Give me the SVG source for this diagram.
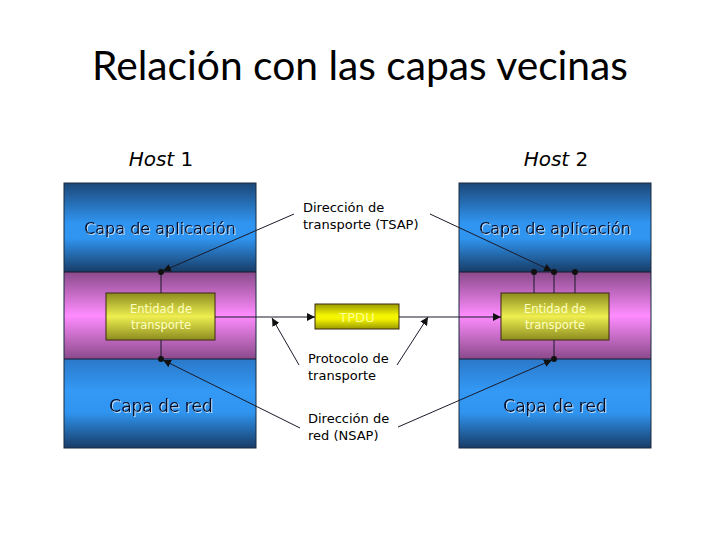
<svg xmlns="http://www.w3.org/2000/svg" width="720" height="540" viewBox="0 0 720 540">
<defs>
<linearGradient id="gBlue" x1="0" y1="0" x2="0" y2="1">
<stop offset="0" stop-color="#1c4778"/>
<stop offset="0.45" stop-color="#3095f0"/>
<stop offset="0.62" stop-color="#3095f0"/>
<stop offset="1" stop-color="#173c66"/>
</linearGradient>
<linearGradient id="gBlue2" x1="0" y1="0" x2="0" y2="1">
<stop offset="0" stop-color="#2a78c8"/>
<stop offset="0.35" stop-color="#3399f5"/>
<stop offset="0.6" stop-color="#3095f0"/>
<stop offset="1" stop-color="#173c66"/>
</linearGradient>
<linearGradient id="gPink" x1="0" y1="0" x2="0" y2="1">
<stop offset="0" stop-color="#8a4a8a"/>
<stop offset="0.5" stop-color="#ff8cff"/>
<stop offset="1" stop-color="#8a4a8a"/>
</linearGradient>
<linearGradient id="gYel" x1="0" y1="0" x2="0" y2="1">
<stop offset="0" stop-color="#8c8c20"/>
<stop offset="0.5" stop-color="#eeee50"/>
<stop offset="1" stop-color="#8c8c20"/>
</linearGradient>
<linearGradient id="gYel2" x1="0" y1="0" x2="0" y2="1">
<stop offset="0" stop-color="#9a9a00"/>
<stop offset="0.45" stop-color="#f4f400"/>
<stop offset="0.6" stop-color="#f4f400"/>
<stop offset="1" stop-color="#9a9a00"/>
</linearGradient>
<filter id="sh" x="-10%" y="-30%" width="120%" height="160%">
<feDropShadow dx="1" dy="1" stdDeviation="0" flood-color="#bcdcff" flood-opacity="1"/>
</filter>
<marker id="ah" viewBox="0 0 10 10" refX="10" refY="5" markerWidth="8" markerHeight="8" markerUnits="userSpaceOnUse" orient="auto">
<path d="M0,0 L10,5 L0,10 z" fill="#111"/>
</marker>
</defs>
<style>
.title{font-family:Lato,"Liberation Sans",sans-serif;font-size:40px;fill:#000}
.host{font-family:"DejaVu Sans",sans-serif;font-size:20px;fill:#000}
.layer{font-family:"DejaVu Sans",sans-serif;font-size:16px;fill:#000a28;filter:url(#sh)}
.red{font-size:17px}
.ent{font-family:"DejaVu Sans",sans-serif;font-size:11.5px;fill:#ffffc0}
.lbl{font-family:"DejaVu Sans",sans-serif;font-size:13px;fill:#000}
.sep{stroke:#1a1a30;stroke-width:1.2}
.ln{stroke:#1a1a2a;stroke-width:1;fill:none}
.dot{fill:#111}
</style>
<text class="title" x="360" y="80" text-anchor="middle" textLength="536" lengthAdjust="spacingAndGlyphs">Relación con las capas vecinas</text>

<g id="host1">
<text class="host" x="161" y="166" text-anchor="middle"><tspan font-style="italic">Host</tspan> 1</text>
<rect x="64" y="183" width="192" height="89" fill="url(#gBlue)"/>
<rect x="64" y="272" width="192" height="87" fill="url(#gPink)"/>
<rect x="64" y="359" width="192" height="89" fill="url(#gBlue2)"/>
<rect x="64" y="183" width="192" height="265" fill="none" stroke="#1a2a40" stroke-width="1"/>
<line class="sep" x1="64" y1="272" x2="256" y2="272"/>
<line class="sep" x1="64" y1="359" x2="256" y2="359"/>
<text class="layer" x="160" y="234" text-anchor="middle">Capa de aplicación</text>
<text class="layer red" x="161" y="412" text-anchor="middle">Capa de red</text>
</g>
<g id="entity1">
<rect x="106" y="293" width="109" height="47" fill="url(#gYel)" stroke="#3a2a10" stroke-width="1"/>
<text class="ent" x="161" y="313" text-anchor="middle">Entidad de</text>
<text class="ent" x="161" y="329" text-anchor="middle">transporte</text>
</g>

<g id="host2">
<text class="host" x="556" y="166" text-anchor="middle"><tspan font-style="italic">Host</tspan> 2</text>
<rect x="459" y="183" width="192" height="89" fill="url(#gBlue)"/>
<rect x="459" y="272" width="192" height="87" fill="url(#gPink)"/>
<rect x="459" y="359" width="192" height="89" fill="url(#gBlue2)"/>
<rect x="459" y="183" width="192" height="265" fill="none" stroke="#1a2a40" stroke-width="1"/>
<line class="sep" x1="459" y1="272" x2="651" y2="272"/>
<line class="sep" x1="459" y1="359" x2="651" y2="359"/>
<text class="layer" x="555" y="234" text-anchor="middle">Capa de aplicación</text>
<text class="layer red" x="555" y="412" text-anchor="middle">Capa de red</text>
</g>
<g id="entity2">
<rect x="501" y="293" width="108" height="47" fill="url(#gYel)" stroke="#3a2a10" stroke-width="1"/>
<text class="ent" x="555" y="313" text-anchor="middle">Entidad de</text>
<text class="ent" x="555" y="329" text-anchor="middle">transporte</text>
</g>

<g id="tpdu">
<rect x="315" y="304" width="84" height="25" fill="url(#gYel2)" stroke="#3a2a10" stroke-width="1"/>
<text class="lbl" x="357" y="322" text-anchor="middle" style="fill:#ffff90">TPDU</text>
</g>

<g id="labels">
<text class="lbl" x="303" y="212">Dirección de</text>
<text class="lbl" x="303" y="229">transporte (TSAP)</text>
<text class="lbl" x="308" y="363">Protocolo de</text>
<text class="lbl" x="308" y="380">transporte</text>
<text class="lbl" x="308" y="423">Dirección de</text>
<text class="lbl" x="308" y="440">red (NSAP)</text>
</g>

<g id="connectors">
<line class="ln" x1="161" y1="272" x2="161" y2="293"/>
<line class="ln" x1="161" y1="340" x2="161" y2="359"/>
<line class="ln" x1="534" y1="272" x2="534" y2="293"/>
<line class="ln" x1="554" y1="272" x2="554" y2="293"/>
<line class="ln" x1="575" y1="272" x2="575" y2="293"/>
<line class="ln" x1="554" y1="340" x2="554" y2="359"/>
<circle class="dot" cx="161" cy="272" r="3"/>
<circle class="dot" cx="161" cy="359" r="3"/>
<circle class="dot" cx="534" cy="272" r="3"/>
<circle class="dot" cx="554" cy="272" r="3"/>
<circle class="dot" cx="575" cy="272" r="3"/>
<circle class="dot" cx="554" cy="359" r="3"/>
<line class="ln" x1="215" y1="317" x2="315" y2="317" marker-end="url(#ah)"/>
<line class="ln" x1="399" y1="317" x2="501" y2="317" marker-end="url(#ah)"/>
<line class="ln" x1="294" y1="214" x2="163" y2="271" marker-end="url(#ah)"/>
<line class="ln" x1="430" y1="214" x2="552" y2="271" marker-end="url(#ah)"/>
<line class="ln" x1="300" y1="428" x2="163" y2="360" marker-end="url(#ah)"/>
<line class="ln" x1="398" y1="427" x2="552" y2="360" marker-end="url(#ah)"/>
<line class="ln" x1="299" y1="365" x2="272" y2="318" marker-end="url(#ah)"/>
<line class="ln" x1="397" y1="365" x2="428" y2="317" marker-end="url(#ah)"/>
</g>
</svg>
